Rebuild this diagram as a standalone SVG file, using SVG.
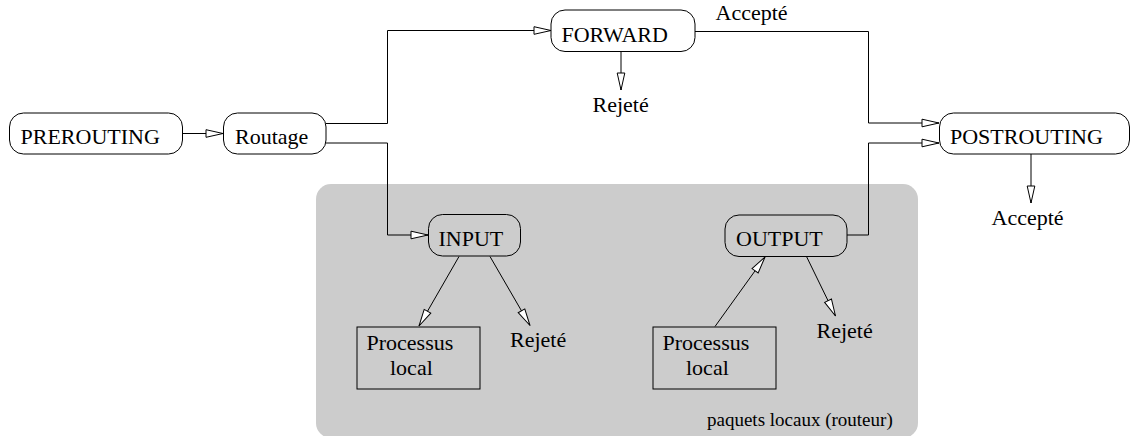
<svg xmlns="http://www.w3.org/2000/svg" width="1131" height="436" viewBox="0 0 1131 436" font-family="'Liberation Serif', 'Times New Roman', 'DejaVu Serif', serif">
<style>
.box{fill:none;stroke:#000;stroke-width:1}
.t{font-family:'Liberation Serif','Times New Roman','DejaVu Serif',serif;font-size:22px;fill:#000}
.s{font-family:'Liberation Serif','Times New Roman','DejaVu Serif',serif;font-size:19px;fill:#000}
.c{fill:none;stroke:#000;stroke-width:1;marker-end:url(#ah)}
</style>
<defs>
<marker id="ah" markerUnits="userSpaceOnUse" viewBox="-1 -5 19 10" refX="17" refY="0" markerWidth="19" markerHeight="10" orient="auto">
<path d="M0,-3.8 L17,0 L0,3.8 Z" fill="#fff" stroke="#000" stroke-width="1"/>
</marker>
</defs>
<rect width="1131" height="436" fill="#fff"/>
<g id="local-zone">
<rect x="316" y="184" width="602" height="254" rx="15" fill="#cccccc"/>
<text class="s" x="707" y="426">paquets locaux (routeur)</text>
</g>
<g id="connectors">
<path class="c" d="M183,133.5 H223"/>
<path class="c" d="M326,123.5 H387.5 V30.5 H551"/>
<path class="c" d="M326,143 H387.5 V235 H428"/>
<path class="c" d="M621,52 V90"/>
<path class="c" d="M695,31.5 H868.5 V123 H939"/>
<path class="c" d="M847,235 H868.5 V143 H939"/>
<path class="c" d="M1031,154 V203"/>
<path class="c" d="M459,256.5 L419,326"/>
<path class="c" d="M490,256.5 L530,325.5"/>
<path class="c" d="M715,326.5 L765,257"/>
<path class="c" d="M806.5,256.5 L835.5,316"/>
</g>
<g id="prerouting"><rect class="box" x="9.5" y="113" width="173" height="41" rx="14"/><text class="t" x="20.5" y="144">PREROUTING</text></g>
<g id="routage"><rect class="box" x="223.5" y="113" width="102.5" height="41" rx="14"/><text class="t" x="235" y="144">Routage</text></g>
<g id="forward"><rect class="box" x="551" y="10" width="144" height="41.5" rx="14"/><text class="t" x="561.5" y="41.5">FORWARD</text></g>
<g id="forward-rejete"><text class="t" x="592.5" y="111.5">Rejeté</text></g>
<g id="forward-accepte"><text class="t" x="715.5" y="20">Accepté</text></g>
<g id="postrouting"><rect class="box" x="939.5" y="113" width="190" height="41" rx="14"/><text class="t" x="950" y="144">POSTROUTING</text></g>
<g id="postrouting-accepte"><text class="t" x="991.5" y="225">Accepté</text></g>
<g id="input"><rect class="box" x="428.5" y="214.5" width="92" height="41.5" rx="14"/><text class="t" x="438.5" y="245.5">INPUT</text></g>
<g id="input-processus"><rect class="box" x="357" y="327" width="123" height="62"/><text class="t" x="366.5" y="350">Processus</text><text class="t" x="390" y="375">local</text></g>
<g id="input-rejete"><text class="t" x="510" y="346.5">Rejeté</text></g>
<g id="output"><rect class="box" x="725" y="215" width="122" height="41.5" rx="14"/><text class="t" x="736" y="245.5">OUTPUT</text></g>
<g id="output-processus"><rect class="box" x="653" y="327" width="123" height="62"/><text class="t" x="662.5" y="350">Processus</text><text class="t" x="686" y="375">local</text></g>
<g id="output-rejete"><text class="t" x="816.5" y="337.5">Rejeté</text></g>
</svg>
